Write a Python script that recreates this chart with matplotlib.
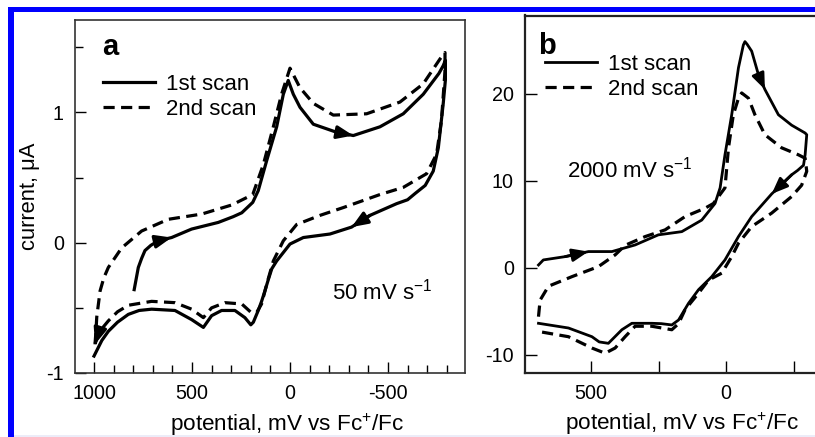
import matplotlib
matplotlib.use("Agg")
import matplotlib.pyplot as plt
from matplotlib.patches import Rectangle
from matplotlib.ticker import MultipleLocator, FixedLocator

plt.rcParams['font.family'] = ['Liberation Sans', 'DejaVu Sans']
plt.rcParams['mathtext.fontset'] = 'custom'
plt.rcParams['mathtext.rm'] = 'Liberation Sans'
plt.rcParams['mathtext.it'] = 'Liberation Sans:italic'
plt.rcParams['mathtext.bf'] = 'Liberation Sans:bold'
plt.rcParams['axes.unicode_minus'] = False

# panel a, 50 mV/s (potential in mV, current in uA)
E_a1 = [795, 774, 757, 740, 710, 672, 604, 502, 366, 290, 246, 190, 162, 119,
        68, 34, 9, -17, -51, -119, -238, -323, -459, -578, -680, -760, -782,
        -793,
        -793, -782, -757, -731, -690, -640, -600, -544, -408, -314, -204, -68,
        0, 68, 93, 110, 128, 145, 162, 187, 200, 230, 281, 349, 400, 442, 502,
        587, 706, 770, 825, 880, 927, 960, 980, 1000]
I_a1 = [-0.36, -0.19, -0.12, -0.06, -0.02, 0.015, 0.04, 0.105, 0.156, 0.20,
        0.23, 0.31, 0.40, 0.63, 0.89, 1.14, 1.246, 1.14, 1.04, 0.91, 0.848,
        0.823, 0.89, 0.99, 1.14, 1.30, 1.36, 1.40,
        1.25, 1.07, 0.73, 0.55, 0.44, 0.38, 0.33, 0.30, 0.21, 0.12, 0.067,
        0.04, -0.01, -0.14, -0.20, -0.28, -0.37, -0.45, -0.52, -0.61, -0.63,
        -0.575, -0.52, -0.52, -0.56, -0.65, -0.59, -0.52, -0.51, -0.52, -0.55,
        -0.61, -0.68, -0.75, -0.81, -0.87]
E_a2 = [995, 990, 986, 969, 950, 927, 859, 757, 621, 451, 297, 190, 136, 85,
        43, 0, -51, -119, -221, -391, -561, -680, -765, -791,
        -791, -773, -748, -697, -578, -459, -272, -153, -34, 34, 85, 119, 145,
        170, 195, 246, 332, 400, 442, 502, 587, 706, 825, 880, 927, 960, 978,
        995]
I_a2 = [-0.78, -0.68, -0.57, -0.37, -0.27, -0.19, -0.04, 0.09, 0.18, 0.22,
        0.29, 0.37, 0.6, 0.89, 1.14, 1.34, 1.19, 1.07, 0.98, 0.99, 1.08, 1.22,
        1.41, 1.46,
        1.32, 0.94, 0.68, 0.53, 0.425, 0.37, 0.27, 0.21, 0.14, 0.015, -0.14,
        -0.32, -0.47, -0.535, -0.54, -0.47, -0.46, -0.50, -0.575, -0.51,
        -0.46, -0.45, -0.48, -0.53, -0.60, -0.66, -0.70, -0.78]

# panel b, 2000 mV/s
E_b1 = [695, 677, 596, 510, 423, 337, 251, 164, 90, 41, 22, 4, -21, -46, -64,
        -70, -78, -95, -120, -144, -194, -243, -293, -299, -293, -287, -265,
        -243, -169, -95, -46, 4, 53, 102, 139, 176, 201, 240, 275, 349, 386,
        436, 470, 497, 584, 695]
I_b1 = [0.34, 0.92, 1.3, 1.88, 1.88, 2.64, 3.8, 4.17, 5.5, 7.4, 9.2, 13, 17.6,
        23, 25.6, 26.0, 25.7, 24.9, 22.2, 20.5, 17.6, 16.4, 15.5, 15.3, 13,
        11.8, 11.2, 10.7, 8.5, 5.9, 3.6, 0.92, -1.0, -2.5, -4.06, -5.98, -6.55,
        -6.4, -6.36, -6.36, -7.1, -8.66, -8.5, -7.9, -6.9, -6.36]
E_b2 = [695, 689, 658, 571, 473, 411, 374, 300, 226, 152, 78, 47, 4, -9, -27,
        -46, -58, -83, -107, -144, -206, -268, -293, -299, -280, -243, -169,
        -95, -46, -21, 16, 65, 102, 152, 176, 201, 275, 337, 374, 411, 448,
        497, 584, 695]
I_b2 = [-5.6, -3.7, -2.1, -1.0, 0.15, 1.5, 2.6, 3.6, 4.37, 5.9, 6.86, 7.4, 9.2,
        13.8, 17.6, 19.5, 20.1, 19.5, 17.6, 15.3, 13.8, 13.0, 12.6, 11.1, 9.5,
        8.2, 6.3, 4.75, 2.84, 1.3, -0.6, -1.4, -2.9, -4.8, -6.4, -7.1, -6.7,
        -6.7, -7.9, -9.2, -9.8, -9.2, -7.9, -7.3]

# arrow heads: index along each trace
arrows_a1 = [6, 21, 37]
arrows_a2 = [51]
arrows_b1 = [3, 19, 28]

labels = ['1st scan', '2nd scan']
xlabel = r'potential, mV vs Fc$^{+}$/Fc'
ylabel = u'current, \u03bcA'


def add_arrows(ax, E, I, idx, lw):
    for k in idx:
        ax.annotate('', xy=(E[k], I[k]), xytext=(E[k - 1], I[k - 1]),
                    arrowprops=dict(arrowstyle='-|>,head_length=0.8,head_width=0.32',
                                    color='k', lw=lw, shrinkA=0, shrinkB=0,
                                    mutation_scale=12))


fig = plt.figure(figsize=(8.15, 4.37), dpi=100)

# blue frame
fig.add_artist(Rectangle((8 / 815, 1 - 12.3 / 437), 1, 5.3 / 437,
                         transform=fig.transFigure, color='#0000ff', lw=0))
fig.add_artist(Rectangle((8 / 815, 0), 5.5 / 815, 1 - 7 / 437,
                         transform=fig.transFigure, color='#0000ff', lw=0))
fig.add_artist(Rectangle((13.5 / 815, 0), 1, 2 / 437,
                         transform=fig.transFigure, color='#ececf8', lw=0))

dash = (3.5, 2.0)

# ---- panel a
ax = fig.add_axes([75 / 815, 1 - 373 / 437, 390 / 815, 353 / 437])
ax.plot(E_a1, I_a1, color='k', lw=2.3, solid_joinstyle='round', label=labels[0])
ax.plot(E_a2, I_a2, color='k', lw=2.3, dashes=dash, label=labels[1])
add_arrows(ax, E_a1, I_a1, arrows_a1, 2.3)
add_arrows(ax, E_a2, I_a2, arrows_a2, 2.3)
ax.set_xlim(1097, -893)
ax.set_ylim(-1, 1.71)
ax.xaxis.set_major_locator(FixedLocator([1000, 500, 0, -500]))
ax.xaxis.set_minor_locator(MultipleLocator(100))
ax.yaxis.set_major_locator(MultipleLocator(1))
ax.yaxis.set_minor_locator(MultipleLocator(0.5))
ax.tick_params(which='both', direction='in', width=1, labelsize=14.2, color='k')
ax.tick_params(which='major', length=8, pad=8)
ax.tick_params(which='minor', length=6)
ax.set_xlabel(xlabel, fontsize=16.2)
ax.xaxis.set_label_coords(0.544, -0.108)
ax.set_ylabel(ylabel, fontsize=15.8)
ax.yaxis.set_label_coords(-0.09, 0.5)
ax.text(0.069, 0.90, 'a', transform=ax.transAxes, fontsize=21,
        fontweight='bold', va='baseline')
ax.text(0.659, 0.207, r'50 mV s$^{-1}$', transform=ax.transAxes,
        fontsize=16, va='baseline')
ax.legend(loc='upper left', bbox_to_anchor=(0.072, 0.848), frameon=False,
          borderpad=0, borderaxespad=0, handlelength=2.35, handletextpad=0.5,
          labelspacing=0.2, fontsize=16)
for s in ax.spines.values():
    s.set_linewidth(1.2)
    s.set_color('#333333')

# ---- panel b
bx = fig.add_axes([525 / 815, 1 - 373 / 437, 309 / 815, 357.5 / 437])
bx.plot(E_b1, I_b1, color='k', lw=2.0, solid_joinstyle='round', label=labels[0])
bx.plot(E_b2, I_b2, color='k', lw=2.3, dashes=dash, label=labels[1])
add_arrows(bx, E_b1, I_b1, arrows_b1, 2.0)
bx.set_xlim(745, -400)
bx.set_ylim(-12.07, 29.0)
bx.xaxis.set_major_locator(FixedLocator([500, 0, -500]))
bx.xaxis.set_minor_locator(FixedLocator([250, -250]))
bx.yaxis.set_major_locator(MultipleLocator(10))
bx.tick_params(which='both', direction='in', width=1, labelsize=14.2,
               length=8.5, color='k')
bx.tick_params(which='major', pad=8)
bx.set_xlabel(xlabel, fontsize=16.2)
bx.xaxis.set_label_coords(0.508, -0.106)
bx.text(0.042, 0.892, 'b', transform=bx.transAxes, fontsize=21,
        fontweight='bold', va='baseline')
bx.text(0.136, 0.548, r'2000 mV s$^{-1}$', transform=bx.transAxes,
        fontsize=16, va='baseline')
bx.legend(loc='upper left', bbox_to_anchor=(0.065, 0.893), frameon=False,
          borderpad=0, borderaxespad=0, handlelength=2.35, handletextpad=0.5,
          labelspacing=0.2, fontsize=16)
for s in bx.spines.values():
    s.set_linewidth(1.6)
    s.set_color('#222222')

fig.savefig('out.png', dpi=100)
